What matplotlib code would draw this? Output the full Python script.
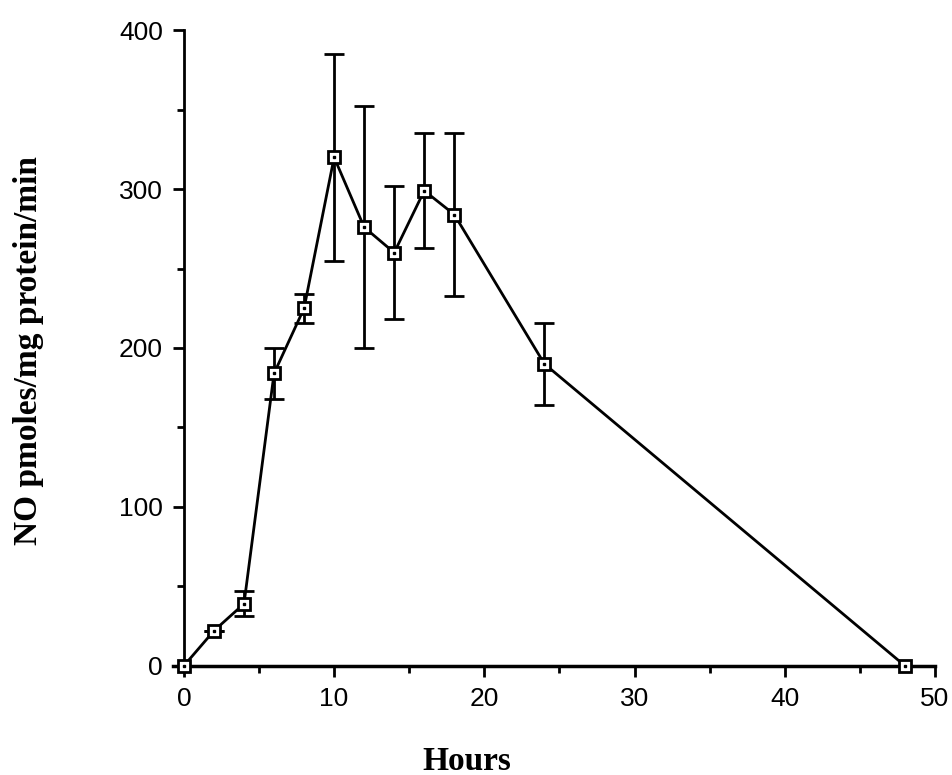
import matplotlib
matplotlib.use("Agg")
import matplotlib.pyplot as plt
import numpy as np

# NO production time course
hours = [0, 2, 4, 6, 8, 10, 12, 14, 16, 18, 24, 48]
no_rate = [0, 22, 39, 184, 225, 320, 276, 260, 299, 284, 190, 0]
sem = [0, 0, 8, 16, 9, 65, 76, 42, 36, 51, 26, 0]

fig = plt.figure(figsize=(9.53, 7.75), dpi=100)
ax = fig.add_axes([0.193, 0.141, 0.788, 0.820])

ax.errorbar(hours, no_rate, yerr=sem, fmt='none', ecolor='black',
            elinewidth=2.0, capsize=7, capthick=2.0, clip_on=False)
ax.plot(hours, no_rate, color='black', lw=2.0, marker='s', ms=9,
        mfc='white', mec='black', mew=2.0, clip_on=False, zorder=3)
ax.plot(hours, no_rate, ls='none', marker='s', ms=1.5, color='black',
        clip_on=False, zorder=4)

ax.set_xlim(0, 50)
ax.set_ylim(0, 400)
ax.set_xticks([0, 10, 20, 30, 40, 50])
ax.set_xticks(np.arange(5, 50, 10), minor=True)
ax.set_yticks([0, 100, 200, 300, 400])
ax.set_yticks([50, 150, 250, 350], minor=True)

for s in ['top', 'right']:
    ax.spines[s].set_visible(False)
ax.spines['left'].set_linewidth(2.0)
ax.spines['bottom'].set_linewidth(2.5)
ax.spines['bottom'].set_bounds(-0.7, 50)
ax.tick_params(which='major', direction='out', length=8, width=2,
               labelsize=19, pad=7)
ax.tick_params(which='minor', direction='out', length=5, width=2)
for lab in ax.get_xticklabels() + ax.get_yticklabels():
    lab.set_fontfamily('Liberation Sans')

fig.text(0.490, 0.018, 'Hours', ha='center', va='center',
         fontfamily='Liberation Serif', fontweight='bold', fontsize=24)
fig.text(0.030, 0.548, 'NO pmoles/mg protein/min', ha='center', va='center',
         rotation=90, fontfamily='Liberation Serif', fontweight='bold',
         fontsize=24)

fig.savefig('out.png', dpi=100)
